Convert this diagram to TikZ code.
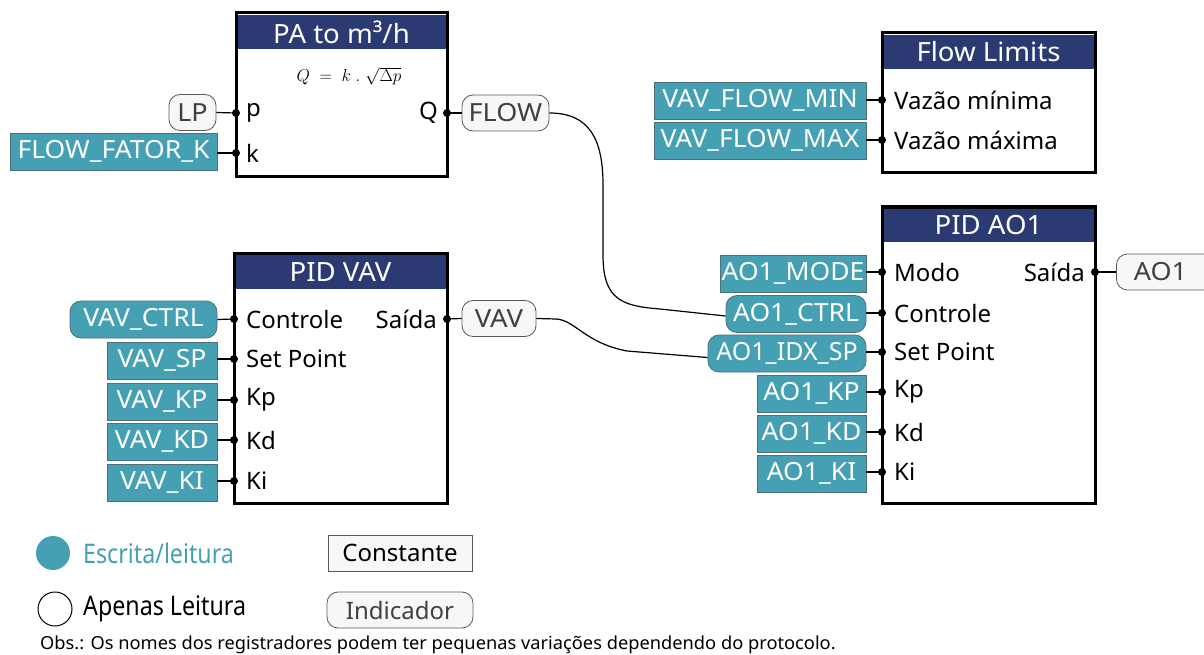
\documentclass[tikz,border=0pt]{standalone}
\usepackage{graphicx}
\usepackage{fontspec}
\setmainfont{Noto Sans}
\definecolor{tealc}{HTML}{45A0B3}
\definecolor{tealb}{HTML}{4F6F78}
\definecolor{navy}{HTML}{2B3A72}
\definecolor{indfill}{HTML}{F7F7F7}
\definecolor{indline}{HTML}{5A5A5A}
\newcommand{\hstretch}[2][1.06]{\scalebox{#1}[1]{#2}}
\tikzset{
  x=1pt, y=-1pt,
  blockbox/.style={draw=black, line width=3pt, fill=white, inner sep=0pt},
  titlebar/.style={fill=navy, text=white, inner sep=0pt, font=\fontsize{26.5}{30}\selectfont},
  reg/.style={fill=tealc, draw=tealb, line width=0.8pt, text=white, inner sep=0pt, minimum height=37pt, font=\fontsize{25}{28}\selectfont},
  regr/.style={reg, rounded corners=11pt},
  ind/.style={fill=indfill, draw=indline, line width=0.8pt, text=black!75, rounded corners=11pt, inner sep=0pt, minimum height=36pt, font=\fontsize{25}{28}\selectfont},
  const/.style={fill=indfill, draw=indline, line width=0.8pt, text=black, inner sep=0pt, minimum height=36pt, font=\fontsize{24}{28}\selectfont},
  plabel/.style={inner sep=0pt, font=\fontsize{24}{28}\selectfont},
  wire/.style={draw=black, line width=1.2pt},
  portdot/.style={fill=black},
}
\begin{document}
\begin{tikzpicture}
\useasboundingbox (0,0) rectangle (1204,655);

% ---------- PA to m3/h ----------
\node[blockbox, minimum width=211pt, minimum height=164pt] (pa) at (341.5,95) {};
\node[titlebar, minimum width=208pt, minimum height=34pt] (pat) at (341.5,32) {\hstretch[1.04]{PA to m³/h}};
\node[inner sep=0pt, font=\fontsize{16.5}{20}\selectfont] (paf) at (349,76) {$Q\;=\;k\;.\;\sqrt{\Delta p}$};
\coordinate (pap) at (236,113);
\coordinate (pak) at (236,153);
\coordinate (paq) at (447,113);
\node[plabel, anchor=west] (papl) at (246,113) {p};
\node[plabel, anchor=west] (pakl) at (246,153) {k};
\node[plabel, anchor=east] (paql) at (438,113) {Q};
\node[ind, minimum width=47pt] (lp) at (192.5,112.5) {\hstretch[1.08]{LP}};
\node[reg, minimum width=207pt] (ffk) at (113.5,151.5) {\hstretch{FLOW\_FATOR\_K}};
\node[ind, minimum width=87pt] (flow) at (505.5,113) {\hstretch[1.08]{FLOW}};

% ---------- Flow Limits ----------
\node[blockbox, minimum width=213pt, minimum height=140pt] (fl) at (988.5,103) {};
\node[titlebar, minimum width=210pt, minimum height=34pt] (flt) at (988.5,52) {\hstretch[1.04]{Flow Limits}};
\coordinate (flmin) at (882,100);
\coordinate (flmax) at (882,140);
\node[plabel, anchor=west] (flminl) at (894,100) {Vazão mínima};
\node[plabel, anchor=west] (flmaxl) at (894,140) {Vazão máxima};
\node[reg, minimum width=212pt] (vfmin) at (760,100.5) {\hstretch{VAV\_FLOW\_MIN}};
\node[reg, minimum width=212pt] (vfmax) at (760,140.5) {\hstretch{VAV\_FLOW\_MAX}};

% ---------- PID VAV ----------
\node[blockbox, minimum width=213pt, minimum height=250pt] (pv) at (340.5,378) {};
\node[titlebar, minimum width=210pt, minimum height=34pt] (pvt) at (340.5,272) {\hstretch[1.04]{PID VAV}};
\coordinate (pvc) at (234,319);
\coordinate (pvsp) at (234,359);
\coordinate (pvkp) at (234,400);
\coordinate (pvkd) at (234,440);
\coordinate (pvki) at (234,481);
\coordinate (pvo) at (447,319);
\node[plabel, anchor=west] at (246,319) {Controle};
\node[plabel, anchor=west] at (246,359) {Set Point};
\node[plabel, anchor=west] at (246,400) {Kp};
\node[plabel, anchor=west] at (246,440) {Kd};
\node[plabel, anchor=west] at (246,481) {Ki};
\node[plabel, anchor=east] at (437,319) {Saída};
\node[regr, minimum width=147pt] (vctrl) at (143.5,319.5) {\hstretch{VAV\_CTRL}};
\node[reg, minimum width=110pt] (vsp) at (162,360.5) {\hstretch{VAV\_SP}};
\node[reg, minimum width=110pt] (vkp) at (162,401.5) {\hstretch{VAV\_KP}};
\node[reg, minimum width=110pt] (vkd) at (162,441.5) {\hstretch{VAV\_KD}};
\node[reg, minimum width=110pt] (vki) at (162,482.5) {\hstretch{VAV\_KI}};
\node[ind, minimum width=74pt] (vav) at (499,318.5) {\hstretch[1.1]{VAV}};

% ---------- PID AO1 ----------
\node[blockbox, minimum width=213pt, minimum height=296pt] (pa1) at (988.5,355) {};
\node[titlebar, minimum width=210pt, minimum height=33pt] (pa1t) at (988.5,225.5) {\hstretch[1.04]{PID AO1}};
\coordinate (amo) at (882,272);
\coordinate (act) at (882,313);
\coordinate (asp) at (882,352);
\coordinate (akp) at (882,392);
\coordinate (akd) at (882,432);
\coordinate (aki) at (882,472);
\coordinate (aout) at (1095,272);
\node[plabel, anchor=west] at (894,272) {Modo};
\node[plabel, anchor=west] at (894,313) {Controle};
\node[plabel, anchor=west] at (894,352) {Set Point};
\node[plabel, anchor=west] at (894,392) {Kp};
\node[plabel, anchor=west] at (894,432) {Kd};
\node[plabel, anchor=west] at (894,472) {Ki};
\node[plabel, anchor=east] at (1085,272) {Saída};
\node[reg, minimum width=146pt] (amode) at (793,273.5) {\hstretch{AO1\_MODE}};
\node[regr, minimum width=140pt] (actrl) at (796,314) {\hstretch{AO1\_CTRL}};
\node[regr, minimum width=158pt] (aidx) at (787,353.5) {\hstretch[1.0]{AO1\_IDX\_SP}};
\node[reg, minimum width=109pt] (akpn) at (811.5,393.5) {\hstretch{AO1\_KP}};
\node[reg, minimum width=109pt] (akdn) at (811.5,433.5) {\hstretch{AO1\_KD}};
\node[reg, minimum width=109pt] (akin) at (811.5,473.5) {\hstretch{AO1\_KI}};
\node[ind, minimum width=100pt, anchor=west] (ao1) at (1116,272) {\hspace*{-12pt}\hstretch[1.08]{AO1}};

% ---------- stubs ----------
\draw[wire] (lp.east) -- (pap);
\draw[wire] (ffk.east |- pak) -- (pak);
\draw[wire] (paq) -- (flow.west);
\draw[wire] (vfmin.east |- flmin) -- (flmin);
\draw[wire] (vfmax.east |- flmax) -- (flmax);
\draw[wire] (vctrl.east) -- (pvc);
\draw[wire] (vsp.east |- pvsp) -- (pvsp);
\draw[wire] (vkp.east |- pvkp) -- (pvkp);
\draw[wire] (vkd.east |- pvkd) -- (pvkd);
\draw[wire] (vki.east |- pvki) -- (pvki);
\draw[wire] (pvo) -- (vav.west);
\draw[wire] (amode.east |- amo) -- (amo);
\draw[wire] (actrl.east |- act) -- (act);
\draw[wire] (aidx.east |- asp) -- (asp);
\draw[wire] (akpn.east |- akp) -- (akp);
\draw[wire] (akdn.east |- akd) -- (akd);
\draw[wire] (akin.east |- aki) -- (aki);
\draw[wire] (aout) -- (ao1.west);

% ---------- long connectors ----------
\draw[wire] (flow.east) .. controls (590,113) and (603,140) .. (603,185) -- (603,255) .. controls (603,300) and (622,306) .. (660,309) -- ([yshift=-2pt]actrl.west);
\draw[wire] (vav.east) -- (556,319) .. controls (575,320) and (585,343) .. (627,351) -- ([yshift=-4pt]aidx.west);

% ---------- port dots ----------
\foreach \p in {pap,pak,paq,flmin,flmax,pvc,pvsp,pvkp,pvkd,pvki,pvo,amo,act,asp,akp,akd,aki,aout}
  \fill[portdot] (\p) circle (4pt);

% ---------- legend ----------
\fill[tealc] (53,553) circle (17pt);
\node[anchor=west, inner sep=0pt, text=tealc, font=\fontsize{27}{30}\selectfont] (lrw) at (83,553) {\hstretch[0.86]{Escrita/leitura}};
\draw[black, line width=1pt] (55,609) circle (17pt);
\node[anchor=west, inner sep=0pt, font=\fontsize{27}{30}\selectfont] (lro) at (83,609) {\hstretch[0.86]{Apenas Leitura}};
\node[const, minimum width=144pt] (lconst) at (400,553) {Constante};
\node[ind, minimum width=146pt, font=\fontsize{24}{28}\selectfont] (lind) at (400,610) {Indicador};
\node[anchor=west, inner sep=0pt, font=\fontsize{18}{20}\selectfont] (obs) at (40,645) {\hstretch[1.015]{Obs.: Os nomes dos registradores podem ter pequenas variações dependendo do protocolo.}};
\end{tikzpicture}
\end{document}
